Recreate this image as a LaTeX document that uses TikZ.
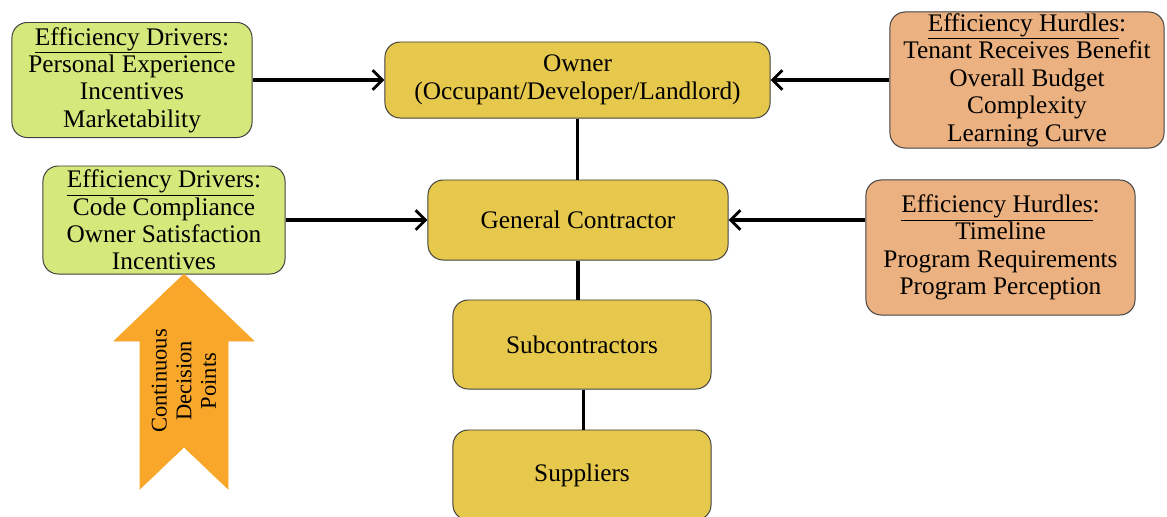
\documentclass[tikz,border=0pt]{standalone}
\usepackage{fontspec}
\setmainfont{Liberation Serif}
\usetikzlibrary{arrows.meta}
\definecolor{drivergreen}{RGB}{213,232,124}
\definecolor{chaingold}{RGB}{230,200,76}
\definecolor{hurdleorange}{RGB}{236,177,128}
\definecolor{flowarrow}{RGB}{249,167,43}
\begin{document}
\begin{tikzpicture}[x=0.025cm,y=-0.025cm,
  box/.style={draw=black!75,line width=0.7pt,rounded corners=0.38cm,align=center,
    font=\fontsize{18}{19.5}\selectfont,inner sep=1pt},
  driver/.style={box,fill=drivergreen},
  hurdle/.style={box,fill=hurdleorange},
  chain/.style={box,fill=chaingold},
  link/.style={line width=2.2pt},
  push/.style={line width=2.2pt,-{Straight Barb[length=7pt,width=14pt,line width=2pt]}}]
\useasboundingbox (0,0) rectangle (1167,516);

% Chain of parties
\node[chain,minimum width=9.625cm,minimum height=1.9cm] (owner) at (577.5,80) {Owner\\(Occupant/Developer/Landlord)};
\node[chain,minimum width=7.5cm,minimum height=2cm] (gc) at (578,220) {General Contractor};
\node[chain,minimum width=6.45cm,minimum height=2.225cm] (sub) at (582,344.5) {Subcontractors};
\node[chain,minimum width=6.45cm,minimum height=2.25cm] (sup) at (582,475) {Suppliers};

% Drivers
\node[driver,minimum width=6cm,minimum height=2.875cm] (drvA) at (132,80) {\underline{Efficiency Drivers}:\\Personal Experience\\Incentives\\Marketability};
\node[driver,minimum width=6.05cm,minimum height=2.7cm] (drvB) at (164,220) {\underline{Efficiency Drivers}:\\Code Compliance\\Owner Satisfaction\\Incentives};

% Hurdles
\node[hurdle,minimum width=6.85cm,minimum height=3.4cm] (hrdA) at (1027,80) {\underline{Efficiency Hurdles}:\\Tenant Receives Benefit\\Overall Budget\\Complexity\\Learning Curve};
\node[hurdle,minimum width=6.725cm,minimum height=3.375cm] (hrdB) at (1000.5,247.5) {\underline{Efficiency Hurdles}:\\Timeline\\Program Requirements\\Program Perception};

% Connections
\draw[push] (drvA.east) -- (owner.west);
\draw[push] (hrdA.west) -- (owner.east);
\draw[push] (drvB.east) -- (gc.west);
\draw[push] (hrdB.west |- gc.east) -- (gc.east);
\draw[link] (owner.south |- gc.north) -- (owner.south);
\draw[link] (gc.south) -- (gc.south |- sub.north);
\draw[link] ([xshift=1pt]sub.south) -- ([xshift=1pt]sub.south |- sup.north);

% Decision arrow
\draw[fill=flowarrow,draw=flowarrow] (184,274) -- (254,341) -- (228,341) -- (228,489) -- (184,447)
  -- (140,489) -- (140,341) -- (114,341) -- cycle;
\node[rotate=90,align=center,font=\fontsize{16}{17.5}\selectfont] (cdp) at (184,381) {Continuous\\Decision\\Points};
\end{tikzpicture}
\end{document}
